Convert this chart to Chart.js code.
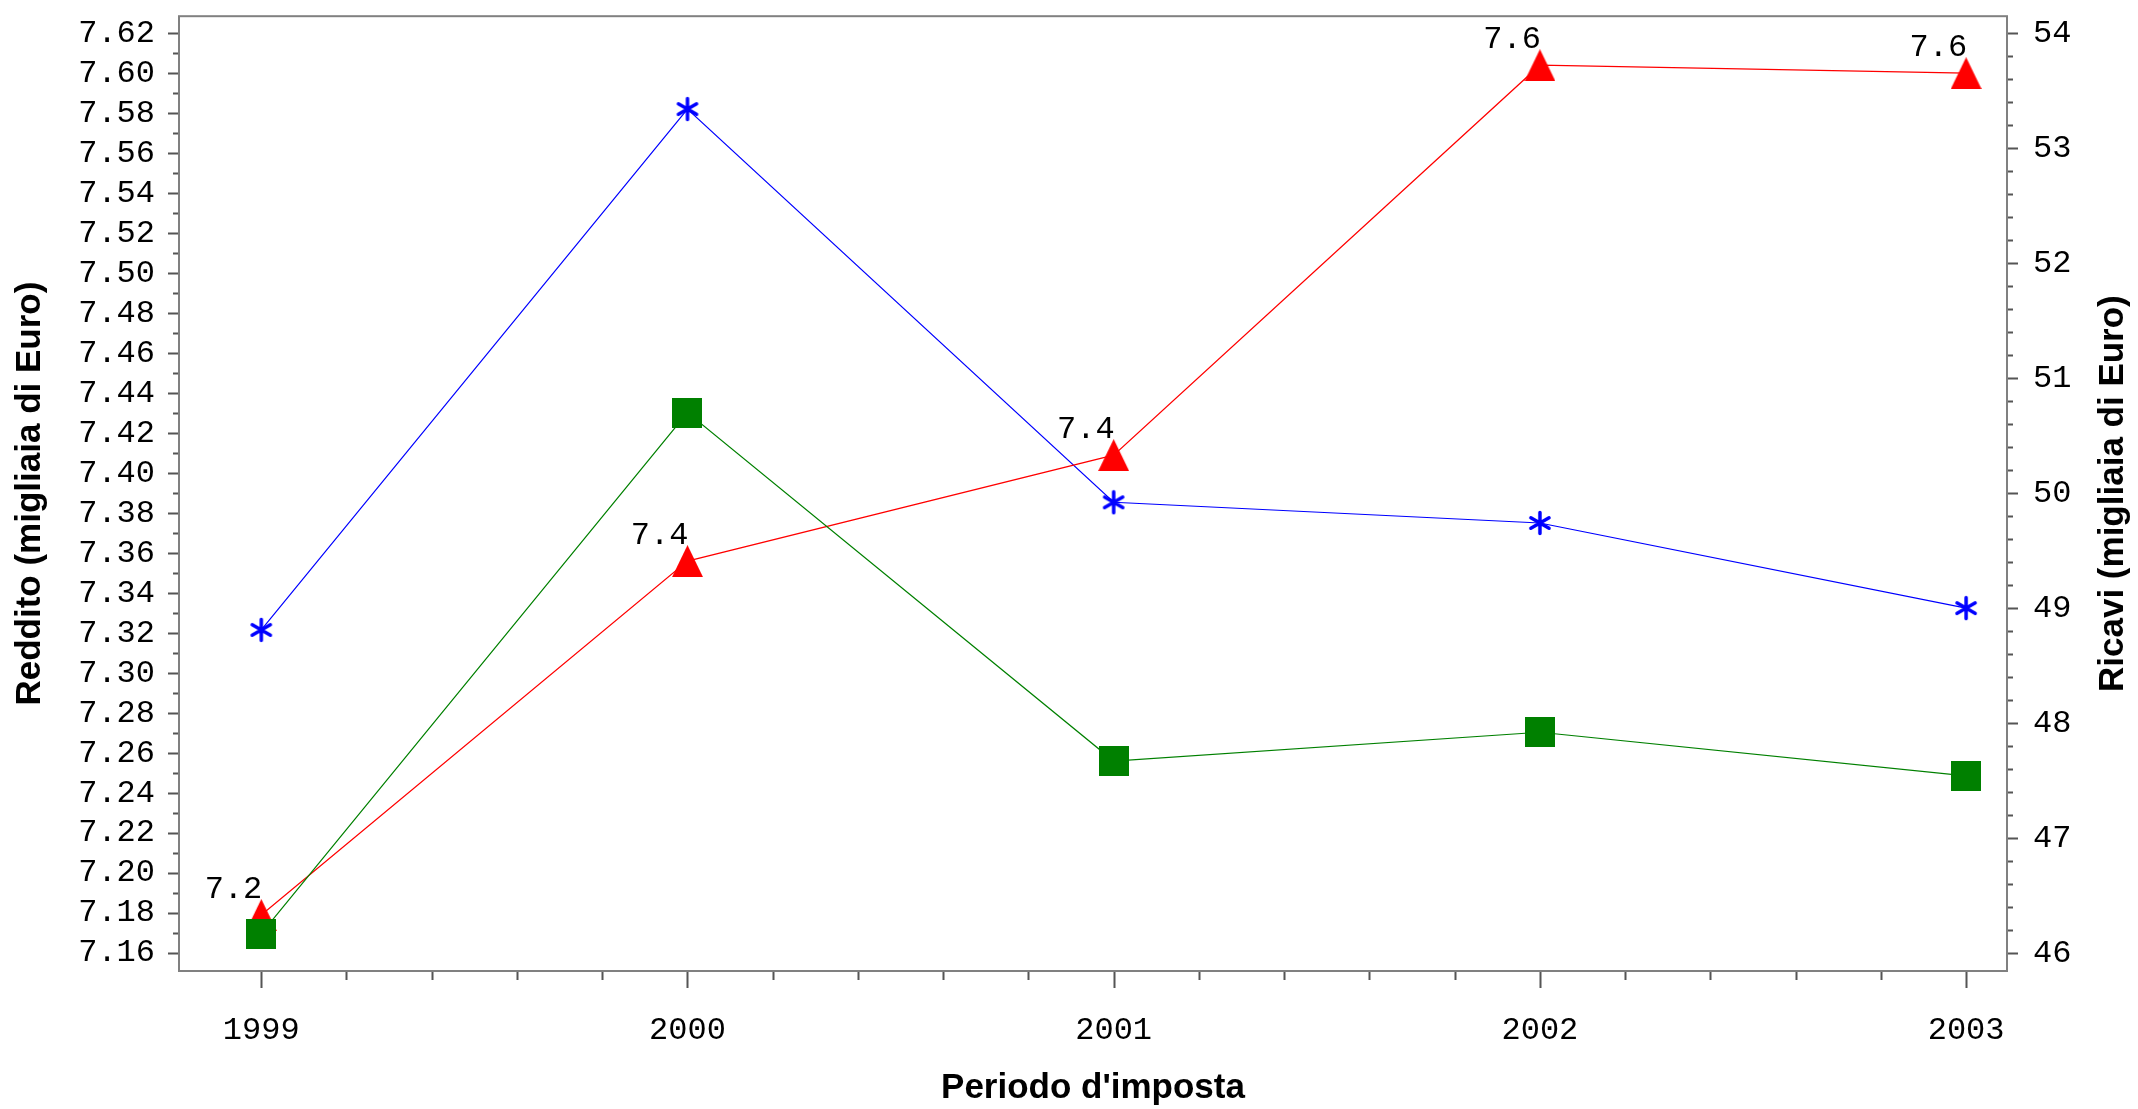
<!DOCTYPE html>
<html>
<head>
<meta charset="utf-8">
<script src="https://cdn.jsdelivr.net/npm/chart.js@4/dist/chart.umd.min.js"></script>
<style>
  body { margin: 0; background: #fff; }
  canvas { display: block; }
</style>
</head>
<body>
<canvas id="chart-canvas" width="2138" height="1109"></canvas>
<script>
// data
const years = [1999, 2000, 2001, 2002, 2003];
const reddito = [7.179, 7.356, 7.409, 7.604, 7.600];     // red triangles, left axis
const ricaviBlue = [48.81, 53.34, 49.92, 49.74, 49.00];  // blue asterisks, right axis
const ricaviGreen = [46.17, 50.70, 47.67, 47.92, 47.54]; // green squares, right axis

const leftTicks = [7.16, 7.18, 7.20, 7.22, 7.24, 7.26, 7.28, 7.30, 7.32, 7.34, 7.36, 7.38,
                   7.40, 7.42, 7.44, 7.46, 7.48, 7.50, 7.52, 7.54, 7.56, 7.58, 7.60, 7.62];
const rightTicks = [46, 47, 48, 49, 50, 51, 52, 53, 54];

const xTitle = "Periodo d'imposta";
const leftTitle = 'Reddito (migliaia di Euro)';
const rightTitle = 'Ricavi (migliaia di Euro)';

const tickFont = { family: 'Liberation Mono', size: 32 };

function makeMarker(w, h, draw) {
  const c = document.createElement('canvas');
  c.width = w;
  c.height = h;
  draw(c.getContext('2d'), w, h);
  return c;
}

const triangle = makeMarker(31, 32, (ctx, w, h) => {
  ctx.fillStyle = '#ff0000';
  ctx.beginPath();
  ctx.moveTo(w / 2, 0);
  ctx.lineTo(w, h);
  ctx.lineTo(0, h);
  ctx.closePath();
  ctx.fill();
});

const square = makeMarker(30, 30, (ctx, w, h) => {
  ctx.fillStyle = '#008000';
  ctx.fillRect(0, 0, w, h);
});

const asterisk = makeMarker(26, 26, (ctx, w, h) => {
  ctx.strokeStyle = '#0000ff';
  ctx.lineWidth = 3.5;
  ctx.lineCap = 'round';
  const r = 10.5;
  ctx.beginPath();
  for (const a of [90, 30, 150]) {
    const dx = Math.cos(a * Math.PI / 180) * r;
    const dy = Math.sin(a * Math.PI / 180) * r;
    ctx.moveTo(w / 2 - dx, h / 2 - dy);
    ctx.lineTo(w / 2 + dx, h / 2 + dy);
  }
  ctx.stroke();
});

function pts(values) {
  return values.map((v, i) => ({ x: years[i], y: v }));
}

function pinBox(size, key) {
  return (s) => {
    s[key] = size;
    s.paddingTop = 0;
    s.paddingBottom = 0;
    s.paddingLeft = 0;
    s.paddingRight = 0;
  };
}

// frame, tick marks, axis titles and value labels
const decorations = {
  id: 'decorations',
  afterDraw(chart) {
    const ctx = chart.ctx;
    const area = chart.chartArea;
    const xs = chart.scales.x, yl = chart.scales.y, yr = chart.scales.y1;
    ctx.save();

    ctx.strokeStyle = '#555';
    ctx.lineWidth = 2;
    ctx.beginPath();
    // x ticks
    for (let v = years[0]; v <= years[years.length - 1] + 1e-6; v += 0.2) {
      const px = Math.round(xs.getPixelForValue(v)) + 0.5;
      const major = Math.abs(v - Math.round(v)) < 1e-6;
      ctx.moveTo(px, area.bottom);
      ctx.lineTo(px, area.bottom + (major ? 17 : 9));
    }
    // left ticks
    for (let i = 0; i < leftTicks.length; i++) {
      let py = Math.round(yl.getPixelForValue(leftTicks[i])) + 0.5;
      ctx.moveTo(area.left, py);
      ctx.lineTo(area.left - 11, py);
      if (i < leftTicks.length - 1) {
        py = Math.round(yl.getPixelForValue((leftTicks[i] + leftTicks[i + 1]) / 2)) + 0.5;
        ctx.moveTo(area.left, py);
        ctx.lineTo(area.left - 6, py);
      }
    }
    // right ticks
    for (let i = 0; i < rightTicks.length; i++) {
      let py = Math.round(yr.getPixelForValue(rightTicks[i])) + 0.5;
      ctx.moveTo(area.right, py);
      ctx.lineTo(area.right + 11, py);
      if (i < rightTicks.length - 1) {
        for (let k = 1; k < 5; k++) {
          py = Math.round(yr.getPixelForValue(rightTicks[i] + k * 0.2)) + 0.5;
          ctx.moveTo(area.right, py);
          ctx.lineTo(area.right + 6, py);
        }
      }
    }
    ctx.stroke();

    ctx.strokeStyle = '#808080';
    ctx.lineWidth = 2;
    ctx.strokeRect(area.left, area.top, area.right - area.left, area.bottom - area.top);

    ctx.fillStyle = '#000';
    ctx.font = 'bold 35px "Liberation Sans"';
    ctx.textAlign = 'center';
    ctx.textBaseline = 'middle';
    ctx.fillText(xTitle, (area.left + area.right) / 2, 1088);
    const midY = (area.top + area.bottom) / 2;
    ctx.translate(30, midY);
    ctx.rotate(-Math.PI / 2);
    ctx.fillText(leftTitle, 0, 0);
    ctx.rotate(Math.PI / 2);
    ctx.translate(2113 - 30, 0);
    ctx.rotate(-Math.PI / 2);
    ctx.fillText(rightTitle, 0, 0);
    ctx.restore();

    // labels on the red series
    ctx.save();
    ctx.fillStyle = '#000';
    ctx.font = '32px "Liberation Mono"';
    ctx.textAlign = 'right';
    ctx.textBaseline = 'alphabetic';
    const meta = chart.getDatasetMeta(1);
    meta.data.forEach((p, i) => {
      ctx.fillText(reddito[i].toFixed(1), p.x + 1, p.y - 17);
    });
    ctx.restore();
  }
};

new Chart(document.getElementById('chart-canvas'), {
  type: 'line',
  data: {
    datasets: [
      {
        label: 'Ricavi (verde)',
        data: pts(ricaviGreen),
        yAxisID: 'y1',
        borderColor: '#008000',
        borderWidth: 1.2,
        pointStyle: square,
        pointRadius: 15,
      },
      {
        label: 'Reddito',
        data: pts(reddito),
        yAxisID: 'y',
        borderColor: '#ff0000',
        borderWidth: 1.2,
        pointStyle: triangle,
        pointRadius: 15,
      },
      {
        label: 'Ricavi (blu)',
        data: pts(ricaviBlue),
        yAxisID: 'y1',
        borderColor: '#0000ff',
        borderWidth: 1.2,
        pointStyle: asterisk,
        pointRadius: 13,
      },
    ],
  },
  options: {
    responsive: false,
    animation: false,
    layout: { padding: { top: 11, left: 0, right: 0, bottom: 0 } },
    plugins: {
      legend: { display: false },
      tooltip: { enabled: false },
    },
    scales: {
      x: {
        type: 'linear',
        min: 1998.807,
        max: 2003.096,
        grid: { display: false, drawTicks: false },
        border: { display: false },
        afterBuildTicks: (s) => { s.ticks = years.map(v => ({ value: v })); },
        afterFit: pinBox(138, 'height'),
        ticks: {
          font: tickFont,
          color: '#000',
          padding: 40,
          maxRotation: 0,
          autoSkip: false,
          callback: (v) => String(v),
        },
      },
      y: {
        position: 'left',
        min: 7.1510,
        max: 7.6285,
        grid: { display: false, drawTicks: false },
        border: { display: false },
        afterBuildTicks: (s) => { s.ticks = leftTicks.map(v => ({ value: v })); },
        afterFit: pinBox(179, 'width'),
        ticks: {
          font: tickFont,
          color: '#000',
          padding: 24,
          autoSkip: false,
          callback: (v) => Number(v).toFixed(2),
        },
      },
      y1: {
        position: 'right',
        min: 45.844,
        max: 54.147,
        grid: { display: false, drawTicks: false },
        border: { display: false },
        afterBuildTicks: (s) => { s.ticks = rightTicks.map(v => ({ value: v })); },
        afterFit: pinBox(131, 'width'),
        ticks: {
          font: tickFont,
          color: '#000',
          padding: 26,
          autoSkip: false,
          callback: (v) => String(v),
        },
      },
    },
  },
  plugins: [decorations],
});
</script>
</body>
</html>
